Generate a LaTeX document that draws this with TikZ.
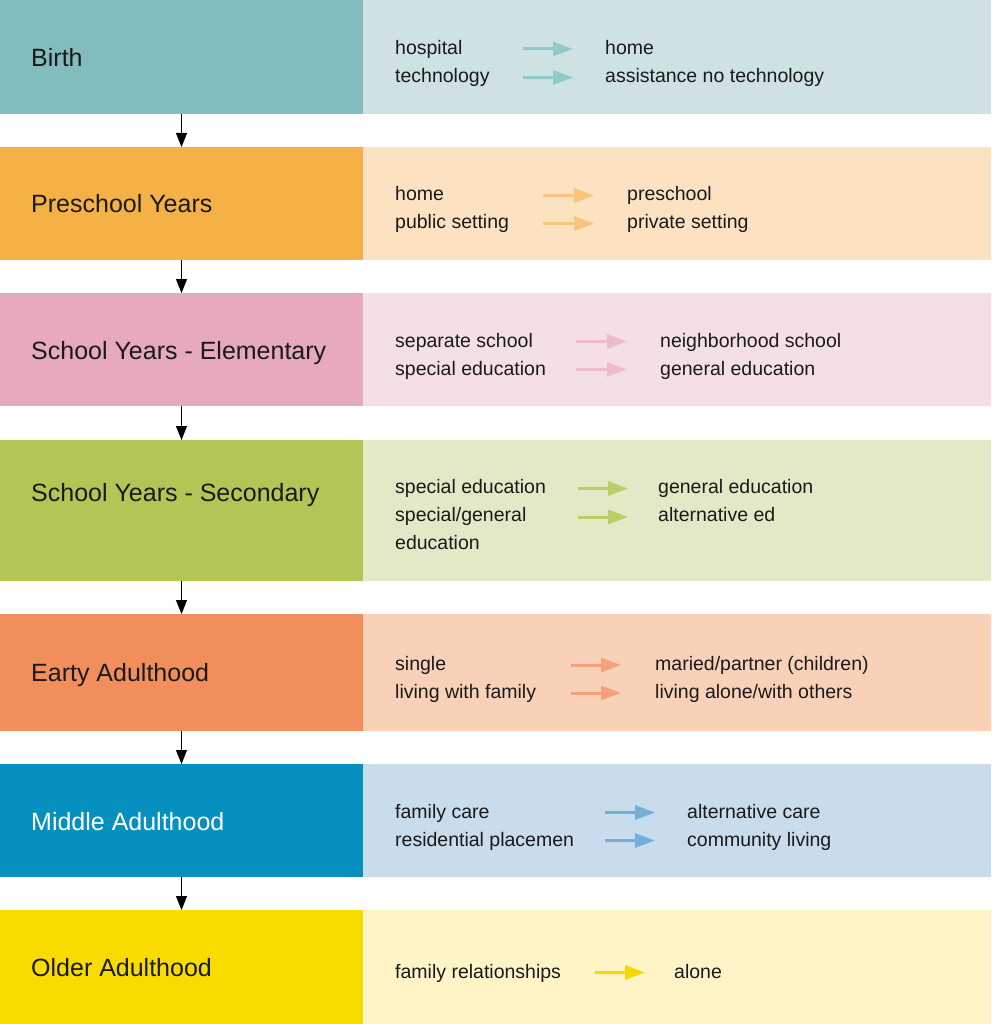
\documentclass[tikz,border=0pt]{standalone}
\usepackage{fontspec}
\setmainfont{Liberation Sans}
\usetikzlibrary{arrows.meta}
\definecolor{dA}{HTML}{82BDBE}\definecolor{lA}{HTML}{CFE2E3}\definecolor{aA}{HTML}{92C9CA}
\definecolor{dB}{HTML}{F5B146}\definecolor{lB}{HTML}{FDE2C1}\definecolor{aB}{HTML}{F9C57A}
\definecolor{dC}{HTML}{E7A9BE}\definecolor{lC}{HTML}{F5DFE6}\definecolor{aC}{HTML}{EDBBCB}
\definecolor{dD}{HTML}{B1C655}\definecolor{lD}{HTML}{E3E9C6}\definecolor{aD}{HTML}{BACE68}
\definecolor{dE}{HTML}{F28E5C}\definecolor{lE}{HTML}{F9D1B8}\definecolor{aE}{HTML}{F3A27B}
\definecolor{dF}{HTML}{0690BF}\definecolor{lF}{HTML}{C8DCEB}\definecolor{aF}{HTML}{74AFDA}
\definecolor{dG}{HTML}{F8DC00}\definecolor{lG}{HTML}{FFF4C6}\definecolor{aG}{HTML}{F7D800}
\definecolor{txt}{HTML}{1A1A1A}
\tikzset{
  leftbox/.style={anchor=north west, inner sep=0pt, outer sep=0pt, minimum width=363pt},
  rightbox/.style={anchor=north west, inner sep=0pt, outer sep=0pt, minimum width=628pt},
  stage/.style={anchor=base west, inner sep=0pt, text=txt, font=\fontsize{25}{30}\selectfont},
  item/.style={anchor=base west, inner sep=0pt, text=txt, font=\fontsize{19.5}{24}\selectfont},
  flow/.style={draw=black, line width=0.9pt, -{Triangle[length=14pt,width=11pt]}},
  chg/.style={line width=3pt, -{Triangle[length=20pt,width=14pt]}}
}
\begin{document}
\begin{tikzpicture}[x=1pt,y=-1pt]
\useasboundingbox (0,0) rectangle (991,1024);
% boxes
\node[leftbox, fill=dA, minimum height=114pt] (L1) at (0,0) {};
\node[rightbox, fill=lA, minimum height=114pt] (R1) at (363,0) {};
\node[leftbox, fill=dB, minimum height=113pt] (L2) at (0,147) {};
\node[rightbox, fill=lB, minimum height=113pt] (R2) at (363,147) {};
\node[leftbox, fill=dC, minimum height=113pt] (L3) at (0,293) {};
\node[rightbox, fill=lC, minimum height=113pt] (R3) at (363,293) {};
\node[leftbox, fill=dD, minimum height=141pt] (L4) at (0,440) {};
\node[rightbox, fill=lD, minimum height=141pt] (R4) at (363,440) {};
\node[leftbox, fill=dE, minimum height=117pt] (L5) at (0,614) {};
\node[rightbox, fill=lE, minimum height=117pt] (R5) at (363,614) {};
\node[leftbox, fill=dF, minimum height=113pt] (L6) at (0,764) {};
\node[rightbox, fill=lF, minimum height=113pt] (R6) at (363,764) {};
\node[leftbox, fill=dG, minimum height=114pt] (L7) at (0,910) {};
\node[rightbox, fill=lG, minimum height=114pt] (R7) at (363,910) {};
% stage labels
\node[stage] (s1) at (31,66.5) {Birth};
\node[stage] (s2) at (31,212.5) {Preschool Years};
\node[stage] (s3) at (31,359) {School Years - Elementary};
\node[stage] (s4) at (31,501.5) {School Years - Secondary};
\node[stage] (s5) at (31,681.5) {Earty Adulthood};
\node[stage, text=white] (s6) at (31,830) {Middle Adulthood};
\node[stage] (s7) at (31,976.5) {Older Adulthood};
% flow arrows
\draw[flow] (L1.south) -- (L2.north);
\draw[flow] (L2.south) -- (L3.north);
\draw[flow] (L3.south) -- (L4.north);
\draw[flow] (L4.south) -- (L5.north);
\draw[flow] (L5.south) -- (L6.north);
\draw[flow] (L6.south) -- (L7.north);
% row 1
\node[item] (a1) at (395,55) {hospital};
\node[item] (b1) at (395,83) {technology};
\node[item] (c1) at (605,55) {home};
\node[item] (d1) at (605,83) {assistance no technology};
\coordinate (p1s) at (523,49); \coordinate (p1e) at (573,49);
\coordinate (q1s) at (523,77.5); \coordinate (q1e) at (573,77.5);
\draw[chg, aA] (p1s) -- (p1e);
\draw[chg, aA] (q1s) -- (q1e);
% row 2
\node[item] (a2) at (395,201) {home};
\node[item] (b2) at (395,229) {public setting};
\node[item] (c2) at (627,201) {preschool};
\node[item] (d2) at (627,229) {private setting};
\coordinate (p2s) at (543,195.5); \coordinate (p2e) at (594,195.5);
\coordinate (q2s) at (543,223.5); \coordinate (q2e) at (594,223.5);
\draw[chg, aB] (p2s) -- (p2e);
\draw[chg, aB] (q2s) -- (q2e);
% row 3
\node[item] (a3) at (395,347) {separate school};
\node[item] (b3) at (395,375) {special education};
\node[item] (c3) at (660,347) {neighborhood school};
\node[item] (d3) at (660,375) {general education};
\coordinate (p3s) at (576,341.5); \coordinate (p3e) at (627,341.5);
\coordinate (q3s) at (576,369.5); \coordinate (q3e) at (627,369.5);
\draw[chg, aC] (p3s) -- (p3e);
\draw[chg, aC] (q3s) -- (q3e);
% row 4
\node[item] (a4) at (395,493) {special education};
\node[item] (b4) at (395,521) {special/general};
\node[item] (b4b) at (395,549) {education};
\node[item] (c4) at (658,493) {general education};
\node[item] (d4) at (658,521) {alternative ed};
\coordinate (p4s) at (578,488.5); \coordinate (p4e) at (628,488.5);
\coordinate (q4s) at (578,517); \coordinate (q4e) at (628,517);
\draw[chg, aD] (p4s) -- (p4e);
\draw[chg, aD] (q4s) -- (q4e);
% row 5
\node[item] (a5) at (395,670) {single};
\node[item] (b5) at (395,698) {living with family};
\node[item] (c5) at (655,670) {maried/partner (children)};
\node[item] (d5) at (655,698) {living alone/with others};
\coordinate (p5s) at (571,665); \coordinate (p5e) at (621,665);
\coordinate (q5s) at (571,693); \coordinate (q5e) at (621,693);
\draw[chg, aE] (p5s) -- (p5e);
\draw[chg, aE] (q5s) -- (q5e);
% row 6
\node[item] (a6) at (395,818) {family care};
\node[item] (b6) at (395,846) {residential placemen};
\node[item] (c6) at (687,818) {alternative care};
\node[item] (d6) at (687,846) {community living};
\coordinate (p6s) at (605,812.5); \coordinate (p6e) at (655,812.5);
\coordinate (q6s) at (605,840.5); \coordinate (q6e) at (655,840.5);
\draw[chg, aF] (p6s) -- (p6e);
\draw[chg, aF] (q6s) -- (q6e);
% row 7
\node[item] (a7) at (395,978) {family relationships};
\node[item] (c7) at (674,978) {alone};
\coordinate (p7s) at (595,972.5); \coordinate (p7e) at (645,972.5);
\draw[chg, aG] (p7s) -- (p7e);
\end{tikzpicture}
\end{document}
